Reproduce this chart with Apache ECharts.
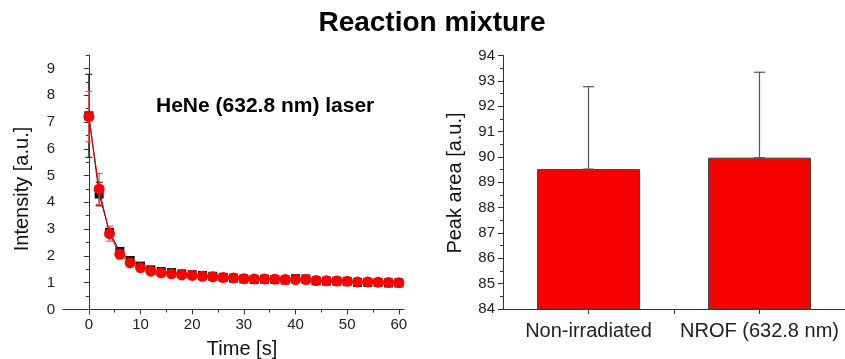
<!DOCTYPE html>
<html lang="en">
<head>
  <meta charset="UTF-8">
  <title>Reaction mixture</title>
  <script src="https://cdn.jsdelivr.net/npm/echarts@6/dist/echarts.min.js"></script>
  <style>
    html, body { margin: 0; padding: 0; background: #fff; }
  </style>
</head>
<body>
  <div id="main" style="width: 845px; height: 359px;"></div>

  <script>
    // time points [s]
    let times = [0, 2, 4, 6, 8, 10, 12, 14, 16, 18, 20, 22, 24, 26, 28, 30,
      32, 34, 36, 38, 40, 42, 44, 46, 48, 50, 52, 54, 56, 58, 60]
    // black squares
    let blackVals = [7.23, 4.31, 2.88, 2.17, 1.83, 1.62, 1.48, 1.42, 1.38, 1.33, 1.30, 1.27, 1.24, 1.20, 1.17, 1.14,
      1.12, 1.13, 1.12, 1.10, 1.15, 1.14, 1.07, 1.06, 1.06, 1.05, 1.01, 1.01, 1.01, 0.99, 0.99]
    let blackErr = [1.55, 0.44, 0.12, 0.08, 0.06, 0.05, 0.05, 0.04, 0.04, 0.04, 0.04, 0.04, 0.04, 0.04, 0.04, 0.04,
      0.04, 0.04, 0.04, 0.04, 0.04, 0.04, 0.04, 0.04, 0.04, 0.04, 0.04, 0.04, 0.04, 0.04, 0.04]
    // red circles
    let redVals = [7.20, 4.50, 2.83, 2.06, 1.74, 1.56, 1.43, 1.37, 1.33, 1.29, 1.27, 1.24, 1.22, 1.19, 1.18, 1.15,
      1.14, 1.14, 1.13, 1.12, 1.12, 1.12, 1.08, 1.07, 1.06, 1.05, 1.03, 1.03, 1.02, 1.01, 1.00]
    let redErr = [0.94, 0.58, 0.28, 0.10, 0.06, 0.05, 0.05, 0.04, 0.04, 0.04, 0.04, 0.04, 0.04, 0.04, 0.04, 0.04,
      0.04, 0.04, 0.04, 0.04, 0.04, 0.04, 0.04, 0.04, 0.04, 0.04, 0.04, 0.04, 0.04, 0.04, 0.04]

    // bar chart
    let barCats = ['Non-irradiated', 'NROF (632.8 nm)']
    let barPos = [1, 2]
    let barVals = [89.52, 89.97]
    let barErr = [3.25, 3.37]

    // tick labels
    let timeTicks = [0, 10, 20, 30, 40, 50, 60]
    let timeMinor = [5, 15, 25, 35, 45, 55]
    let intensityTicks = [0, 1, 2, 3, 4, 5, 6, 7, 8, 9]
    let intensityMinor = [0.5, 1.5, 2.5, 3.5, 4.5, 5.5, 6.5, 7.5, 8.5, 9.5]
    let areaTicks = [84, 85, 86, 87, 88, 89, 90, 91, 92, 93, 94]
    let areaMinor = [84.5, 85.5, 86.5, 87.5, 88.5, 89.5, 90.5, 91.5, 92.5, 93.5]
    let barTicks = [1, 1.5, 2]

    const FONT = 'Liberation Sans, Arial, sans-serif'
    const AXIS = '#333'

    let myChart = echarts.init(document.querySelector('#main'))

    // error bar drawing through the axis scales
    function errorSeries(name, data, color, capW, xIdx, yIdx, z) {
      return {
        name: name,
        type: 'custom',
        xAxisIndex: xIdx,
        yAxisIndex: yIdx,
        z: z,
        silent: true,
        encode: { x: 0, y: [1, 2] },
        data: data,
        renderItem(params, api) {
          let x = api.value(0)
          let lo = api.coord([x, api.value(1)])
          let hi = api.coord([x, api.value(2)])
          let style = { stroke: color, lineWidth: 1.2, fill: null }
          return {
            type: 'group',
            children: [
              { type: 'line', shape: { x1: lo[0], y1: lo[1], x2: hi[0], y2: hi[1] }, style: style },
              { type: 'line', shape: { x1: hi[0] - capW / 2, y1: hi[1], x2: hi[0] + capW / 2, y2: hi[1] }, style: style },
              { type: 'line', shape: { x1: lo[0] - capW / 2, y1: lo[1], x2: lo[0] + capW / 2, y2: lo[1] }, style: style }
            ]
          }
        }
      }
    }

    let blackLine = times.map((t, i) => [t, blackVals[i]])
    let redLine = times.map((t, i) => [t, redVals[i]])
    let blackBars = times.map((t, i) => [t, blackVals[i] - blackErr[i], blackVals[i] + blackErr[i]])
    let redBars = times.map((t, i) => [t, redVals[i] - redErr[i], redVals[i] + redErr[i]])
    let barData = barPos.map((p, i) => [p, barVals[i]])
    // only the upper half of the error bar is drawn
    let barErrData = barPos.map((p, i) => [p, barVals[i], barVals[i] + barErr[i]])

    let tickLabel = { color: '#222', fontSize: 15, fontFamily: FONT }

    let options = {
      animation: false,
      title: {
        text: 'Reaction mixture',
        left: 427,
        top: 4,
        textAlign: 'center',
        textStyle: { fontSize: 28, fontWeight: 'bold', color: '#000', fontFamily: FONT }
      },
      graphic: [
        {
          type: 'text', left: 156, top: 96,
          style: { text: 'HeNe (632.8 nm) laser', font: 'bold 21px ' + FONT, fill: '#000' }
        },
        {
          type: 'text', x: 22, y: 189, rotation: Math.PI / 2,
          style: { text: 'Intensity [a.u.]', font: '20px ' + FONT, fill: '#111', align: 'center', verticalAlign: 'middle' }
        },
        {
          type: 'text', x: 242, y: 349,
          style: { text: 'Time [s]', font: '20px ' + FONT, fill: '#111', align: 'center', verticalAlign: 'middle' }
        },
        {
          type: 'text', x: 455, y: 183, rotation: Math.PI / 2,
          style: { text: 'Peak area [a.u.]', font: '20px ' + FONT, fill: '#111', align: 'center', verticalAlign: 'middle' }
        }
      ],
      grid: [
        { left: 63, top: 55, width: 341, height: 254.5 },
        { left: 503, top: 55.5, width: 344, height: 253.5 }
      ],
      xAxis: [
        {
          gridIndex: 0, type: 'value', min: -5, max: 61, position: 'bottom',
          axisLine: { lineStyle: { color: AXIS } },
          axisTick: { customValues: timeTicks, length: 5, lineStyle: { color: AXIS } },
          axisLabel: Object.assign({ customValues: timeTicks, margin: 8 }, tickLabel),
          splitLine: { show: false }
        },
        {
          gridIndex: 0, type: 'value', min: -5, max: 61, position: 'bottom',
          axisLine: { show: false },
          axisTick: { customValues: timeMinor, length: 3, lineStyle: { color: AXIS } },
          axisLabel: { show: false },
          splitLine: { show: false }
        },
        {
          gridIndex: 1, type: 'value', min: 0.5, max: 2.5, position: 'bottom',
          axisLine: { lineStyle: { color: AXIS } },
          axisTick: { customValues: barTicks, length: 5, lineStyle: { color: AXIS } },
          axisLabel: Object.assign({
            customValues: barPos, margin: 12,
            formatter: (v) => barCats[Math.round(v) - 1]
          }, tickLabel, { fontSize: 20 }),
          splitLine: { show: false }
        }
      ],
      yAxis: [
        {
          gridIndex: 0, type: 'value', min: 0, max: 9.5, position: 'left',
          axisLine: { show: true, lineStyle: { color: AXIS } },
          axisTick: { show: true, customValues: intensityTicks, length: 5, lineStyle: { color: AXIS } },
          axisLabel: Object.assign({ customValues: intensityTicks, margin: 8 }, tickLabel),
          splitLine: { show: false }
        },
        {
          gridIndex: 0, type: 'value', min: 0, max: 9.5, position: 'left', offset: 0,
          axisLine: { show: false },
          axisTick: { show: true, customValues: intensityMinor, length: 3, lineStyle: { color: AXIS } },
          axisLabel: { show: false },
          splitLine: { show: false }
        },
        {
          gridIndex: 1, type: 'value', min: 84, max: 94, position: 'left',
          axisLine: { show: true, lineStyle: { color: AXIS } },
          axisTick: { show: true, customValues: areaTicks, length: 5, lineStyle: { color: AXIS } },
          axisLabel: Object.assign({ customValues: areaTicks, margin: 8 }, tickLabel),
          splitLine: { show: false }
        },
        {
          gridIndex: 1, type: 'value', min: 84, max: 94, position: 'left', offset: 0,
          axisLine: { show: false },
          axisTick: { show: true, customValues: areaMinor, length: 3, lineStyle: { color: AXIS } },
          axisLabel: { show: false },
          splitLine: { show: false }
        }
      ],
      series: [
        errorSeries('black err', blackBars, '#222', 7, 0, 0, 2),
        {
          name: 'black', type: 'line', xAxisIndex: 0, yAxisIndex: 0, z: 3,
          data: blackLine,
          symbol: 'rect', symbolSize: 9,
          itemStyle: { color: '#111' },
          lineStyle: { color: '#111', width: 1 }
        },
        errorSeries('red err', redBars, '#ff5050', 7, 0, 0, 4),
        {
          name: 'red', type: 'line', xAxisIndex: 0, yAxisIndex: 0, z: 5,
          data: redLine,
          symbol: 'circle', symbolSize: 11,
          itemStyle: { color: '#ff0000' },
          lineStyle: { color: '#e00000', width: 1 }
        },
        {
          name: 'peak area', type: 'bar', xAxisIndex: 2, yAxisIndex: 2, z: 2,
          data: barData,
          barWidth: 103,
          itemStyle: { color: '#f80000', borderColor: '#444', borderWidth: 1 }
        },
        errorSeries('bar err', barErrData, '#555', 11, 2, 2, 3)
      ]
    }
    myChart.setOption(options)
  </script>
</body>
</html>
